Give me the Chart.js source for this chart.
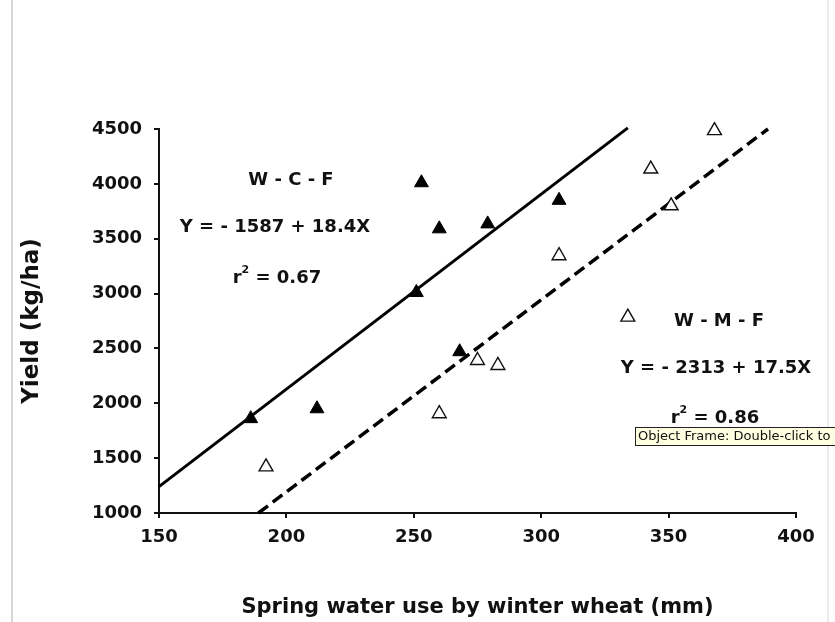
<!DOCTYPE html>
<html>
<head>
<meta charset="utf-8">
<script src="https://cdn.jsdelivr.net/npm/chart.js@4.4.0/dist/chart.umd.min.js"></script>
<style>
  html, body { margin: 0; padding: 0; background: #fff; }
  #wrap { width: 835px; height: 622px; position: relative; }
</style>
</head>
<body>
<div id="wrap"><canvas id="yieldChart"></canvas></div>
<script>
// W - C - F (filled triangles)
const wcfWater = [186, 212, 251, 253, 260, 268, 279, 307];
const wcfYield = [1860, 1950, 3010, 4010, 3590, 2470, 3635, 3850];
// W - M - F (open triangles)
const wmfWater = [192, 260, 275, 283, 307, 334, 343, 351, 368];
const wmfYield = [1420, 1905, 2390, 2345, 3345, 2785, 4135, 3800, 4485];
// fitted lines, end points
const wcfFitWater = [150, 334];
const wcfFitYield = [1240, 4510];
const wmfFitWater = [189, 389];
const wmfFitYield = [1000, 4500];

const xTicks = [150, 200, 250, 300, 350, 400];
const yTicks = [1000, 1500, 2000, 2500, 3000, 3500, 4000, 4500];

const notes = [
    { text: 'W - C - F', x: 201.8, y: 4034 },
    { text: 'Y = - 1587 + 18.4X', x: 195.5, y: 3605 },
    { r2: '0.67', x: 196.3, y: 3141 },
    { text: 'W - M - F', x: 369.8, y: 2749 },
    { text: 'Y = - 2313 + 17.5X', x: 368.6, y: 2321 },
    { r2: '0.86', x: 368.2, y: 1865 }
];

function pts(xs, ys) {
    return xs.map((x, i) => ({ x: x, y: ys[i] }));
}

const FONT = 'DejaVu Sans';

const notesPlugin = {
    id: 'notes',
    afterDatasetsDraw(chart) {
        const ctx = chart.ctx;
        const xs = chart.scales.x, ys = chart.scales.y;
        ctx.save();
        ctx.fillStyle = '#111';
        ctx.textBaseline = 'middle';
        notes.forEach(n => {
            const px = xs.getPixelForValue(n.x);
            const py = ys.getPixelForValue(n.y);
            ctx.font = 'bold 18px "' + FONT + '"';
            if (n.text) {
                ctx.textAlign = 'center';
                ctx.fillText(n.text, px, py);
            } else {
                const rest = ' = ' + n.r2;
                const wr = ctx.measureText('r').width;
                const wrest = ctx.measureText(rest).width;
                ctx.font = 'bold 11px "' + FONT + '"';
                const w2 = ctx.measureText('2').width;
                let x0 = px - (wr + w2 + wrest) / 2;
                ctx.textAlign = 'left';
                ctx.font = 'bold 18px "' + FONT + '"';
                ctx.fillText('r', x0, py);
                ctx.font = 'bold 11px "' + FONT + '"';
                ctx.fillText('2', x0 + wr, py - 8);
                ctx.font = 'bold 18px "' + FONT + '"';
                ctx.fillText(rest, x0 + wr + w2, py);
            }
        });
        ctx.restore();
    },
    afterDraw(chart) {
        const ctx = chart.ctx;
        ctx.save();
        // faint frame of the pasted picture
        ctx.strokeStyle = '#d6d6d6';
        ctx.lineWidth = 2;
        ctx.beginPath();
        ctx.moveTo(12, 0); ctx.lineTo(12, 622);
        ctx.stroke();
        ctx.strokeStyle = '#ececec';
        ctx.beginPath();
        ctx.moveTo(828, 0); ctx.lineTo(828, 622);
        ctx.stroke();
        // the little hover box
        ctx.fillStyle = '#ffffe1';
        ctx.fillRect(635.5, 427.5, 210, 18);
        ctx.strokeStyle = '#222';
        ctx.lineWidth = 1;
        ctx.strokeRect(635.5, 427.5, 210, 18);
        ctx.fillStyle = '#111';
        ctx.font = '13px "' + FONT + '"';
        ctx.textAlign = 'left';
        ctx.textBaseline = 'middle';
        ctx.fillText('Object Frame: Double-click to', 638, 437);
        ctx.restore();
    }
};

const chart = new Chart(document.getElementById('yieldChart').getContext('2d'), {
    type: 'scatter',
    data: {
        datasets: [
            {
                label: 'W - C - F',
                data: pts(wcfWater, wcfYield),
                pointStyle: 'triangle',
                pointRadius: 8,
                backgroundColor: '#000',
                borderColor: '#000',
                borderWidth: 1,
                clip: false,
                order: 0
            },
            {
                label: 'W - M - F',
                data: pts(wmfWater, wmfYield),
                pointStyle: 'triangle',
                pointRadius: 8,
                backgroundColor: '#fff',
                borderColor: '#111',
                borderWidth: 1.4,
                clip: false,
                order: 0
            },
            {
                label: 'W - C - F fit',
                data: pts(wcfFitWater, wcfFitYield),
                showLine: true,
                pointRadius: 0,
                borderColor: '#000',
                borderWidth: 3,
                clip: false,
                order: 1
            },
            {
                label: 'W - M - F fit',
                data: pts(wmfFitWater, wmfFitYield),
                showLine: true,
                pointRadius: 0,
                borderColor: '#000',
                borderWidth: 3.5,
                borderDash: [12, 6],
                clip: false,
                order: 1
            }
        ]
    },
    options: {
        responsive: true,
        maintainAspectRatio: false,
        animation: false,
        events: [],
        layout: { padding: { top: 129, right: 39, bottom: 0, left: 0 } },
        plugins: {
            legend: { display: false },
            tooltip: { enabled: false }
        },
        scales: {
            x: {
                type: 'linear',
                min: 150,
                max: 400,
                afterBuildTicks: s => { s.ticks = xTicks.map(v => ({ value: v })); },
                afterFit: s => { s.height = 109; },
                grid: { drawOnChartArea: false, drawTicks: true, tickLength: 5, color: '#111', lineWidth: 2 },
                border: { display: true, color: '#111', width: 2 },
                ticks: {
                    padding: 9,
                    color: '#111',
                    callback: v => String(v),
                    font: { family: FONT, size: 18, weight: 'bold' }
                },
                title: {
                    display: true,
                    text: 'Spring water use by winter wheat (mm)',
                    color: '#111',
                    font: { family: FONT, size: 21, weight: 'bold', lineHeight: 1.2 },
                    padding: { top: 0, bottom: 2 }
                }
            },
            y: {
                type: 'linear',
                min: 1000,
                max: 4500,
                afterBuildTicks: s => { s.ticks = yTicks.map(v => ({ value: v })); },
                afterFit: s => { s.width = 159; },
                grid: { drawOnChartArea: false, drawTicks: true, tickLength: 5, color: '#111', lineWidth: 2 },
                border: { display: true, color: '#111', width: 2 },
                ticks: {
                    padding: 12,
                    color: '#111',
                    callback: v => String(v),
                    font: { family: FONT, size: 18, weight: 'bold' }
                },
                title: {
                    display: true,
                    text: 'Yield (kg/ha)',
                    color: '#111',
                    font: { family: FONT, size: 23, weight: 'bold', lineHeight: 1.2 },
                    padding: { top: 18, bottom: 0 }
                }
            }
        }
    },
    plugins: [notesPlugin]
});
</script>
</body>
</html>
